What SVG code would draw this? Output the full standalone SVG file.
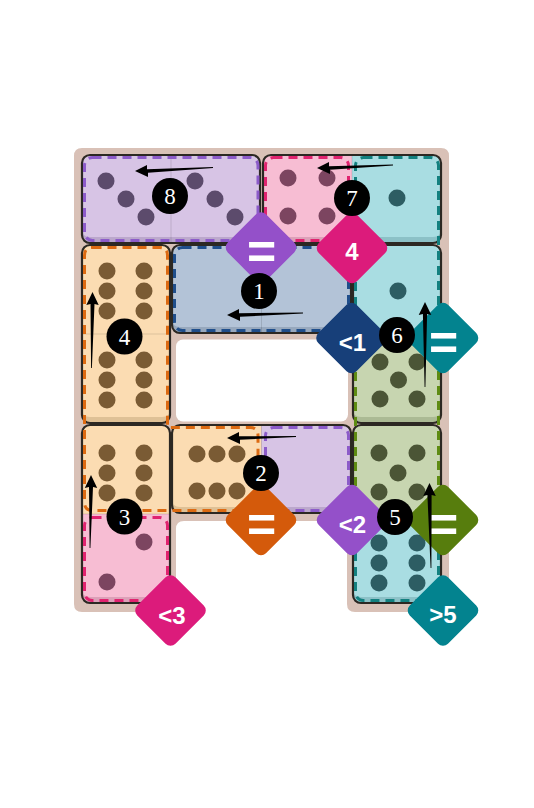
<svg xmlns="http://www.w3.org/2000/svg" width="534" height="808" viewBox="0 0 534 808">
<style>
.bg{fill:#d9c1b7}
.hole{fill:#ffffff}
.out{fill:none;stroke:#2c2823;stroke-width:2.2}
.sep{stroke:#000;stroke-opacity:.12;stroke-width:1}
.reg{fill:none;stroke-width:3;stroke-dasharray:9 6}
.lab{font-family:"Liberation Sans",Arial,sans-serif;font-weight:700;fill:#fff;text-anchor:middle;font-size:24px}
.eq{font-size:50px}
.num{font-family:"Liberation Serif","Times New Roman",serif;font-size:23px;fill:#fff;text-anchor:middle}
.circ{fill:#000}
.arr{fill:#000}
.puf{fill:#d7c4e5}.pus{fill:#bba7cc}.pud{stroke:#8c5bc9}.pup{fill:#5c4b6c}.pux{fill:#9450c9}
.pif{fill:#f7bdd3}.pis{fill:#dca0b8}.pid{stroke:#e0236f}.pip{fill:#7c4560}.pix{fill:#dc1b7b}
.tef{fill:#a9dde2}.tes{fill:#8cc1c7}.ted{stroke:#13807f}.tep{fill:#2d5d63}.tex{fill:#03838f}
.blf{fill:#b3c3d7}.bls{fill:#97a8bd}.bld{stroke:#1f4e8b}.blx{fill:#173f79}
.orf{fill:#fbdcb2}.ors{fill:#dfc196}.ord{stroke:#dc6a12}.orp{fill:#7a5b34}.orx{fill:#d45a0b}
.grf{fill:#c7d5b0}.grs{fill:#abba94}.grd{stroke:#5e8b12}.grp{fill:#4b5536}.grx{fill:#577d0d}
</style>
<defs>
<clipPath id="c8"><rect x="82" y="155" width="178" height="88" rx="8"/></clipPath>
<clipPath id="c7"><rect x="263" y="155" width="178" height="88" rx="8"/></clipPath>
<clipPath id="c1"><rect x="172" y="245" width="179" height="88" rx="8"/></clipPath>
<clipPath id="c2"><rect x="172" y="425" width="179" height="88" rx="8"/></clipPath>
<clipPath id="c4"><rect x="82" y="245" width="88" height="178" rx="8"/></clipPath>
<clipPath id="c6"><rect x="353" y="245" width="88" height="178" rx="8"/></clipPath>
<clipPath id="c3"><rect x="82" y="425" width="88" height="178" rx="8"/></clipPath>
<clipPath id="c5"><rect x="353" y="425" width="88" height="178" rx="8"/></clipPath>
</defs>

<g id="board">
<path class="bg" d="M82,148H441Q449,148 449,156V604Q449,612 441,612H355Q347,612 347,604V529Q347,521 339,521H184Q176,521 176,529V604Q176,612 168,612H82Q74,612 74,604V156Q74,148 82,148Z"/>
<rect class="hole" x="176" y="339.5" width="172" height="82" rx="7"/>
</g>

<g id="domino-8">
<g clip-path="url(#c8)">
<rect class="pus" x="82" y="155" width="178" height="88"/>
<path class="puf" d="M82,155H171V237H90Q82,237 82,229Z"/>
<path class="puf" d="M171,155H260V229Q260,237 252,237H171Z"/>
</g>
<line class="sep" x1="171" y1="156" x2="171" y2="242"/>
<rect class="out" x="82" y="155" width="178" height="88" rx="8"/>
<g class="pup"><circle cx="106" cy="181" r="8.5"/><circle cx="126" cy="199" r="8.5"/><circle cx="146" cy="217" r="8.5"/><circle cx="195" cy="181" r="8.5"/><circle cx="215" cy="199" r="8.5"/><circle cx="235" cy="217" r="8.5"/></g>
</g>

<g id="domino-7">
<g clip-path="url(#c7)">
<rect class="pis" x="263" y="155" width="89" height="88"/>
<rect class="tes" x="352" y="155" width="89" height="88"/>
<path class="pif" d="M263,155H352V237H271Q263,237 263,229Z"/>
<path class="tef" d="M352,155H441V229Q441,237 433,237H352Z"/>
</g>
<line class="sep" x1="352" y1="156" x2="352" y2="242"/>
<rect class="out" x="263" y="155" width="178" height="88" rx="8"/>
<g class="pip"><circle cx="288" cy="178" r="8.5"/><circle cx="327" cy="178" r="8.5"/><circle cx="288" cy="216" r="8.5"/><circle cx="327" cy="216" r="8.5"/></g>
<circle class="tep" cx="397" cy="198" r="8.5"/>
</g>

<g id="domino-1">
<g clip-path="url(#c1)">
<rect class="bls" x="172" y="245" width="179" height="88"/>
<path class="blf" d="M172,245H351V319Q351,327 343,327H180Q172,327 172,319Z"/>
</g>
<line class="sep" x1="261.5" y1="246" x2="261.5" y2="332"/>
<rect class="out" x="172" y="245" width="179" height="88" rx="8"/>
</g>

<g id="domino-2">
<g clip-path="url(#c2)">
<rect class="ors" x="172" y="425" width="89.5" height="88"/>
<rect class="pus" x="261.5" y="425" width="89.5" height="88"/>
<path class="orf" d="M172,425H261.5V507H180Q172,507 172,499Z"/>
<path class="puf" d="M261.5,425H351V499Q351,507 343,507H261.5Z"/>
</g>
<line class="sep" x1="261.5" y1="426" x2="261.5" y2="512"/>
<rect class="out" x="172" y="425" width="179" height="88" rx="8"/>
<g class="orp"><circle cx="197" cy="454" r="8.5"/><circle cx="217" cy="454" r="8.5"/><circle cx="237" cy="454" r="8.5"/><circle cx="197" cy="491" r="8.5"/><circle cx="217" cy="491" r="8.5"/><circle cx="237" cy="491" r="8.5"/></g>
</g>

<g id="domino-4">
<g clip-path="url(#c4)">
<rect class="ors" x="82" y="245" width="88" height="178"/>
<rect class="orf" x="82" y="245" width="88" height="89"/>
<path class="orf" d="M82,334H170V409Q170,417 162,417H90Q82,417 82,409Z"/>
</g>
<line class="sep" x1="83" y1="334" x2="169" y2="334"/>
<rect class="out" x="82" y="245" width="88" height="178" rx="8"/>
<g class="orp"><circle cx="107" cy="271" r="8.5"/><circle cx="144" cy="271" r="8.5"/><circle cx="107" cy="291" r="8.5"/><circle cx="144" cy="291" r="8.5"/><circle cx="107" cy="311" r="8.5"/><circle cx="144" cy="311" r="8.5"/><circle cx="107" cy="360" r="8.5"/><circle cx="144" cy="360" r="8.5"/><circle cx="107" cy="380" r="8.5"/><circle cx="144" cy="380" r="8.5"/><circle cx="107" cy="400" r="8.5"/><circle cx="144" cy="400" r="8.5"/></g>
</g>

<g id="domino-6">
<g clip-path="url(#c6)">
<rect class="grs" x="353" y="245" width="88" height="178"/>
<rect class="tef" x="353" y="245" width="88" height="89"/>
<path class="grf" d="M353,334H441V409Q441,417 433,417H361Q353,417 353,409Z"/>
</g>
<line class="sep" x1="354" y1="334" x2="440" y2="334"/>
<rect class="out" x="353" y="245" width="88" height="178" rx="8"/>
<circle class="tep" cx="398" cy="291" r="8.5"/>
<g class="grp"><circle cx="380" cy="362" r="8.5"/><circle cx="417" cy="362" r="8.5"/><circle cx="398.5" cy="380" r="8.5"/><circle cx="380" cy="399" r="8.5"/><circle cx="417" cy="399" r="8.5"/></g>
</g>

<g id="domino-3">
<g clip-path="url(#c3)">
<rect class="pis" x="82" y="425" width="88" height="178"/>
<rect class="orf" x="82" y="425" width="88" height="89"/>
<path class="pif" d="M82,514H170V589Q170,597 162,597H90Q82,597 82,589Z"/>
</g>
<line class="sep" x1="83" y1="514" x2="169" y2="514"/>
<rect class="out" x="82" y="425" width="88" height="178" rx="8"/>
<g class="orp"><circle cx="107" cy="453" r="8.5"/><circle cx="144" cy="453" r="8.5"/><circle cx="107" cy="473" r="8.5"/><circle cx="144" cy="473" r="8.5"/><circle cx="107" cy="493" r="8.5"/><circle cx="144" cy="493" r="8.5"/></g>
<g class="pip"><circle cx="144" cy="542" r="8.5"/><circle cx="107" cy="582" r="8.5"/></g>
</g>

<g id="domino-5">
<g clip-path="url(#c5)">
<rect class="tes" x="353" y="425" width="88" height="178"/>
<rect class="grf" x="353" y="425" width="88" height="89"/>
<path class="tef" d="M353,514H441V589Q441,597 433,597H361Q353,597 353,589Z"/>
</g>
<line class="sep" x1="354" y1="514" x2="440" y2="514"/>
<rect class="out" x="353" y="425" width="88" height="178" rx="8"/>
<g class="grp"><circle cx="379" cy="453" r="8.5"/><circle cx="417" cy="453" r="8.5"/><circle cx="398" cy="473" r="8.5"/><circle cx="379" cy="492" r="8.5"/><circle cx="417" cy="492" r="8.5"/></g>
<g class="tep"><circle cx="379" cy="543" r="8.5"/><circle cx="417" cy="543" r="8.5"/><circle cx="379" cy="563" r="8.5"/><circle cx="417" cy="563" r="8.5"/><circle cx="379" cy="583" r="8.5"/><circle cx="417" cy="583" r="8.5"/></g>
</g>

<g id="regions">
<rect id="region-purple-a" class="reg pud" x="84.5" y="157.5" width="173.5" height="83" rx="8"/>
<rect id="region-pink-a" class="reg pid" x="265.5" y="157.5" width="83" height="83" rx="8"/>
<rect id="region-teal-a" class="reg ted" x="355.5" y="157.5" width="83" height="173" rx="8"/>
<rect id="region-blue" class="reg bld" x="174.5" y="247.5" width="174" height="83" rx="8"/>
<path id="region-orange" class="reg ord" d="M92.5,247.5H159.5Q167.5,247.5 167.5,255.5V427.5H250Q258,427.5 258,435.5V502.5Q258,510.5 250,510.5H92.5Q84.5,510.5 84.5,502.5V255.5Q84.5,247.5 92.5,247.5Z"/>
<rect id="region-pink-b" class="reg pid" x="84.5" y="517.5" width="83" height="83" rx="8"/>
<rect id="region-purple-b" class="reg pud" x="265.5" y="427.5" width="83" height="83" rx="8"/>
<rect id="region-green" class="reg grd" x="355.5" y="337.5" width="83" height="173" rx="8"/>
<rect id="region-teal-b" class="reg ted" x="355.5" y="517.5" width="83" height="83" rx="8"/>
</g>

<g id="constraint-purple-eq"><rect class="pux" x="-27" y="-27" width="54" height="54" rx="7" transform="translate(261,247.5) rotate(45)"/><text class="lab eq" x="261.5" y="269">=</text></g>
<g id="constraint-pink-4"><rect class="pix" x="-27" y="-27" width="54" height="54" rx="7" transform="translate(352,248) rotate(45)"/><text class="lab" x="352" y="260">4</text></g>
<g id="constraint-blue-lt1"><rect class="blx" x="-27" y="-27" width="54" height="54" rx="7" transform="translate(351.5,338) rotate(45)"/><text class="lab" x="352.5" y="351">&lt;1</text></g>
<g id="constraint-teal-eq"><rect class="tex" x="-27" y="-27" width="54" height="54" rx="7" transform="translate(443,338) rotate(45)"/><text class="lab eq" x="443.5" y="360">=</text></g>
<g id="constraint-orange-eq"><rect class="orx" x="-27" y="-27" width="54" height="54" rx="7" transform="translate(261,520) rotate(45)"/><text class="lab eq" x="261.5" y="542">=</text></g>
<g id="constraint-purple-lt2"><rect class="pux" x="-27" y="-27" width="54" height="54" rx="7" transform="translate(352,520) rotate(45)"/><text class="lab" x="352.5" y="533">&lt;2</text></g>
<g id="constraint-green-eq"><rect class="grx" x="-27" y="-27" width="54" height="54" rx="7" transform="translate(443,520) rotate(45)"/><text class="lab eq" x="443.5" y="542">=</text></g>
<g id="constraint-pink-lt3"><rect class="pix" x="-27" y="-27" width="54" height="54" rx="7" transform="translate(170.5,610.5) rotate(45)"/><text class="lab" x="172" y="624">&lt;3</text></g>
<g id="constraint-teal-gt5"><rect class="tex" x="-27" y="-27" width="54" height="54" rx="7" transform="translate(443,610.5) rotate(45)"/><text class="lab" x="443" y="623">&gt;5</text></g>

<g id="connectors">
<polygon class="arr" points="213,167.1 147,169.2 147,165 135,171 148,177 148,172.8 213,167.9"/>
<polygon class="arr" points="393,164.6 329,166.2 329,162 317,168 330,174 330,169.8 393,165.4"/>
<polygon class="arr" points="303,312.6 239,313.2 239,309 227,315 240,321 240,316.8 303,313.4"/>
<polygon class="arr" points="296,436.1 239,436.2 239,432 227,438 240,444 240,439.8 296,436.9"/>
<polygon class="arr" points="91.1,368 90.5,304 86.3,305 92.5,292 98.7,305 94.5,304 91.9,368"/>
<polygon class="arr" points="89.6,548 89,487 84.8,488 91,475 97.2,488 93,487 90.4,548"/>
<polygon class="arr" points="424.6,387 422.9,314 418.7,315 425,302 431.3,315 427.1,314 425.4,387"/>
<polygon class="arr" points="430.6,568 427.4,495 423.2,496 429.5,483 435.8,496 431.6,495 431.4,568"/>
</g>

<g id="labels">
<g id="label-8"><circle class="circ" cx="170" cy="196" r="18"/><text class="num" x="170" y="204">8</text></g>
<g id="label-7"><circle class="circ" cx="352" cy="198" r="18"/><text class="num" x="352" y="206">7</text></g>
<g id="label-1"><circle class="circ" cx="259" cy="291" r="18"/><text class="num" x="259" y="299">1</text></g>
<g id="label-4"><circle class="circ" cx="124.5" cy="336.5" r="18"/><text class="num" x="124.5" y="344.5">4</text></g>
<g id="label-6"><circle class="circ" cx="397" cy="335" r="18"/><text class="num" x="397" y="343">6</text></g>
<g id="label-3"><circle class="circ" cx="124.5" cy="516.5" r="18"/><text class="num" x="124.5" y="524.5">3</text></g>
<g id="label-2"><circle class="circ" cx="261" cy="473" r="18"/><text class="num" x="261" y="481">2</text></g>
<g id="label-5"><circle class="circ" cx="395" cy="517" r="18"/><text class="num" x="395" y="525">5</text></g>
</g>
</svg>
